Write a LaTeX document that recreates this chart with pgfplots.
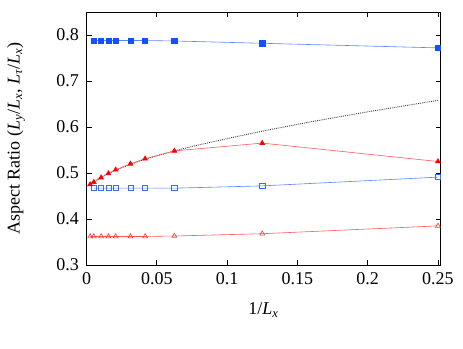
\documentclass[border=0pt]{standalone}
\usepackage{fontspec}
\setmainfont{Liberation Serif}
\usepackage{pgfplots}
\pgfplotsset{compat=1.18}
\definecolor{bmark}{RGB}{20,80,255}
\definecolor{bline}{RGB}{90,130,255}
\definecolor{rmark}{RGB}{255,0,0}
\definecolor{rline}{RGB}{255,90,90}
\newcommand{\Li}[1]{\textit{L}\textsubscript{\textit{#1}}}
\begin{document}
\begin{tikzpicture}
\useasboundingbox (0,0) rectangle (463pt,348pt);
\begin{axis}[
  at={(86.5pt,83pt)}, anchor=south west,
  scale only axis, width=354pt, height=253pt,
  xmin=0, xmax=0.2518, ymin=0.3, ymax=0.85,
  xtick={0,0.05,0.1,0.15,0.2,0.25},
  xticklabels={0,0.05,0.1,0.15,0.2,0.25},
  ytick={0.3,0.4,0.5,0.6,0.7,0.8},
  yticklabels={0.3,0.4,0.5,0.6,0.7,0.8},
  tick align=inside, major tick length=5pt,
  tick style={black, line width=0.8pt},
  axis line style={line width=0.9pt},
  ticklabel style={font=\fontsize{18}{20}\selectfont},
  xticklabel style={yshift=-4pt},
  yticklabel style={xshift=-4pt},
  xlabel={1/\Li{x}}, ylabel={Aspect Ratio (\Li{y}/\Li{x}, \Li{τ}/\Li{x})},
  label style={font=\fontsize{18}{20}\selectfont},
  xlabel style={at={(axis description cs:0.5,-0.178)}, anchor=center},
  ylabel style={at={(axis description cs:-0.199,0.5)}, anchor=center},
  clip=false,
]
% dotted fit
\addplot[densely dotted, black!75, line width=0.9pt] coordinates {
 (0,0.470) (0.0026,0.477) (0.0052,0.482) (0.0104,0.491) (0.0156,0.499)
 (0.0208,0.506) (0.03125,0.519) (0.0417,0.530) (0.0625,0.548) (0.075,0.5576)
 (0.09,0.568) (0.105,0.578) (0.125,0.591) (0.16,0.6115) (0.2,0.633) (0.25,0.658)};
% filled squares
\addplot[bline, line width=0.6pt, mark=square*, mark size=2.6pt,
  mark options={bmark, fill=bmark}] coordinates {
 (0.0052,0.788) (0.0104,0.788) (0.0156,0.788) (0.0208,0.788) (0.03125,0.788)
 (0.0417,0.788) (0.0625,0.787) (0.125,0.782) (0.25,0.772)};
% open squares
\addplot[bline, line width=0.6pt, mark=square, mark size=2.6pt,
  mark options={bmark!85, line width=0.6pt}] coordinates {
 (0.0052,0.467) (0.0104,0.467) (0.0156,0.467) (0.0208,0.467) (0.03125,0.467)
 (0.0417,0.467) (0.0625,0.467) (0.125,0.472) (0.25,0.491)};
% filled triangles
\addplot[rline, line width=0.6pt, mark=triangle*, mark size=2.8pt,
  mark options={rmark, fill=rmark}] coordinates {
 (0.0026,0.475) (0.0052,0.480) (0.0104,0.490) (0.0156,0.499) (0.0208,0.507)
 (0.03125,0.520) (0.0417,0.531) (0.0625,0.548) (0.125,0.565) (0.25,0.525)};
% open triangles
\addplot[rline, line width=0.6pt, mark=triangle, mark size=2.8pt,
  mark options={rmark!80, line width=0.6pt}] coordinates {
 (0.0026,0.362) (0.0052,0.362) (0.0104,0.362) (0.0156,0.362) (0.0208,0.362)
 (0.03125,0.362) (0.0417,0.362) (0.0625,0.363) (0.125,0.368) (0.25,0.385)};
\end{axis}
\end{tikzpicture}
\end{document}
